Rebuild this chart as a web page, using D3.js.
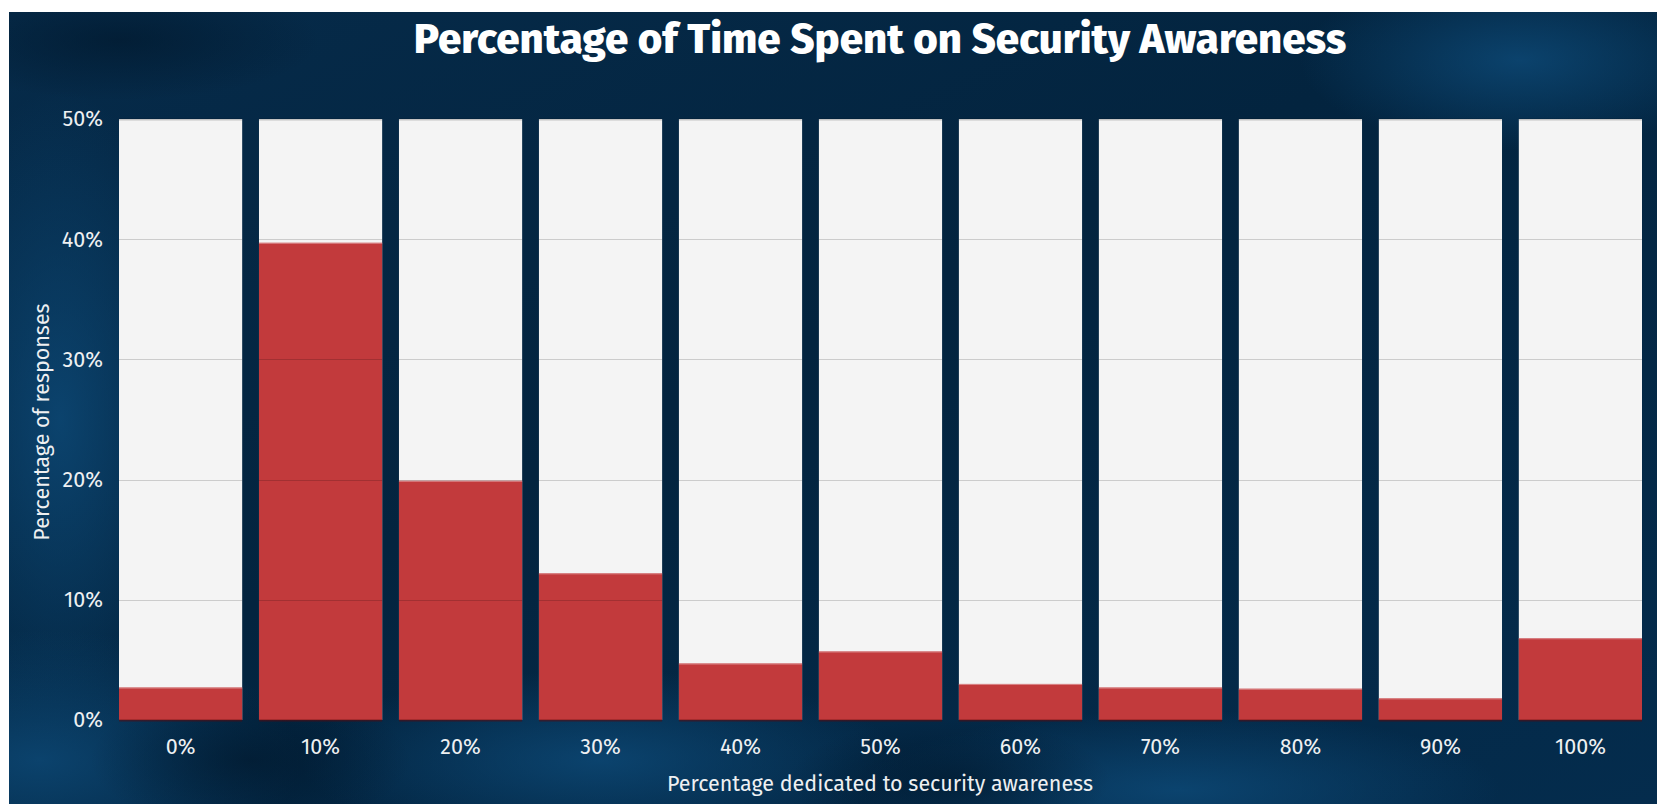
<!DOCTYPE html>
<html>
<head>
<meta charset="utf-8">
<script src="https://cdn.jsdelivr.net/npm/d3@7"></script>
<style>
  html, body { margin: 0; padding: 0; background: #fff; }
  svg { display: block; font-family: "Fira Sans", "Open Sans", sans-serif; }
</style>
</head>
<body>
<div class="canva"></div>
<script>
// categories and values (percent of responses)
const categories = ["0%", "10%", "20%", "30%", "40%", "50%", "60%", "70%", "80%", "90%", "100%"];
const responses = [2.7, 39.7, 19.9, 12.2, 4.7, 5.7, 3.0, 2.7, 2.6, 1.8, 6.8];
const yTicks = [0, 10, 20, 30, 40, 50];

const W = 1657, H = 804;
const svg = d3.select(".canva").append("svg")
  .attr("width", W)
  .attr("height", H);

const margin = {top: 119, right: 15, bottom: 84, left: 119};

const defs = svg.append("defs");
// background gradients
const bg = defs.append("linearGradient").attr("id", "bg")
  .attr("x1", 0).attr("y1", 0).attr("x2", 1).attr("y2", 1);
bg.append("stop").attr("offset", "0%").attr("stop-color", "#062b4a");
bg.append("stop").attr("offset", "45%").attr("stop-color", "#03243f");
bg.append("stop").attr("offset", "100%").attr("stop-color", "#042c4d");

const glow = defs.append("radialGradient").attr("id", "glow");
glow.append("stop").attr("offset", "0%").attr("stop-color", "#0d4a78").attr("stop-opacity", 0.8);
glow.append("stop").attr("offset", "100%").attr("stop-color", "#0d4a78").attr("stop-opacity", 0);

const dark = defs.append("radialGradient").attr("id", "dark");
dark.append("stop").attr("offset", "0%").attr("stop-color", "#01192e").attr("stop-opacity", 0.7);
dark.append("stop").attr("offset", "100%").attr("stop-color", "#01192e").attr("stop-opacity", 0);

// keep the photo-like background inside the panel
defs.append("clipPath").attr("id", "panelClip")
  .append("rect")
    .attr("x", 9).attr("y", 12)
    .attr("width", W - 9).attr("height", H - 12);

const panel = svg.append("g").attr("clip-path", "url(#panelClip)");
panel.append("rect")
  .attr("x", 9).attr("y", 12)
  .attr("width", W - 9).attr("height", H - 12)
  .attr("fill", "url(#bg)");

// soft lighter / darker patches
const blobs = [
  {x: 60, y: 420, rx: 140, ry: 330, f: "glow"},
  {x: 40, y: 760, rx: 260, ry: 130, f: "glow"},
  {x: 600, y: 760, rx: 300, ry: 90, f: "glow"},
  {x: 1180, y: 790, rx: 320, ry: 80, f: "glow"},
  {x: 1520, y: 60, rx: 220, ry: 90, f: "glow"},
  {x: 250, y: 760, rx: 160, ry: 70, f: "dark"},
  {x: 950, y: 780, rx: 160, ry: 60, f: "dark"},
  {x: 120, y: 40, rx: 200, ry: 60, f: "dark"}
];
panel.selectAll(".blob")
  .data(blobs)
  .enter()
  .append("ellipse")
    .attr("class", "blob")
    .attr("cx", d => d.x).attr("cy", d => d.y)
    .attr("rx", d => d.rx).attr("ry", d => d.ry)
    .attr("fill", d => `url(#${d.f})`);

// scales
const x = d3.scaleBand()
  .domain(categories)
  .range([margin.left, W - margin.right])
  .paddingInner(0.12)
  .paddingOuter(0);

const y = d3.scaleLinear()
  .domain([0, 50])
  .range([H - margin.bottom, margin.top]);

const data = categories.map((c, i) => ({cat: c, value: responses[i]}));

const bars = svg.append("g").attr("class", "bars");

// full-height pale background per column
bars.selectAll(".bgbar")
  .data(data)
  .enter()
  .append("rect")
    .attr("class", "bgbar")
    .attr("x", d => x(d.cat))
    .attr("y", y(50))
    .attr("width", x.bandwidth())
    .attr("height", y(0) - y(50))
    .attr("fill", "#f4f4f4");

// value bars
bars.selectAll(".bar")
  .data(data)
  .enter()
  .append("rect")
    .attr("class", "bar")
    .attr("x", d => x(d.cat))
    .attr("y", d => y(d.value))
    .attr("width", x.bandwidth())
    .attr("height", d => y(0) - y(d.value))
    .attr("fill", "#c23a3c");

// thin highlight on top of red bars
bars.selectAll(".barTop")
  .data(data)
  .enter()
  .append("line")
    .attr("class", "barTop")
    .attr("x1", d => x(d.cat))
    .attr("x2", d => x(d.cat) + x.bandwidth())
    .attr("y1", d => y(d.value) + 0.5)
    .attr("y2", d => y(d.value) + 0.5)
    .attr("stroke", "#d98587")
    .attr("stroke-width", 1);

// gridlines only inside each column
const grid = bars.append("g").attr("class", "grid");
data.forEach(d => {
  grid.selectAll(null)
    .data(yTicks)
    .enter()
    .append("line")
      .attr("x1", x(d.cat))
      .attr("x2", x(d.cat) + x.bandwidth())
      .attr("y1", t => Math.round(y(t)) + 0.5)
      .attr("y2", t => Math.round(y(t)) + 0.5)
      .attr("stroke", t => t === 0 ? "rgba(90,10,12,0.55)" : (t === 50 ? "rgba(0,0,0,0.2)" : "rgba(0,0,0,0.16)"))
      .attr("stroke-width", t => (t === 0 || t === 50) ? 2 : 1);
});

// y axis labels
const yAxis = svg.append("g")
  .attr("transform", `translate(${margin.left - 13},0)`)
  .call(d3.axisLeft(y).tickValues(yTicks).tickFormat(d => d + "%").tickSize(0));
yAxis.select(".domain").remove();
yAxis.selectAll("text")
  .attr("fill", "#eef0f2")
  .attr("font-size", 21.5)
  .attr("font-family", "'Fira Sans', 'Open Sans', sans-serif");

// x axis labels
const xAxis = svg.append("g")
  .attr("transform", `translate(0,${y(0) + 16})`)
  .call(d3.axisBottom(x).tickSize(0));
xAxis.select(".domain").remove();
xAxis.selectAll("text")
  .attr("fill", "#eef0f2")
  .attr("font-size", 21.5)
  .attr("font-family", "'Fira Sans', 'Open Sans', sans-serif");

// title
svg.append("text")
  .attr("x", 880)
  .attr("y", 53)
  .attr("text-anchor", "middle")
  .attr("fill", "#ffffff")
  .attr("font-size", 42)
  .attr("font-weight", 800)
  .text("Percentage of Time Spent on Security Awareness");

// axis titles
svg.append("text")
  .attr("x", 880)
  .attr("y", 791)
  .attr("text-anchor", "middle")
  .attr("fill", "#eef0f2")
  .attr("font-size", 21.5)
  .text("Percentage dedicated to security awareness");

svg.append("text")
  .attr("transform", "translate(49,422) rotate(-90)")
  .attr("text-anchor", "middle")
  .attr("fill", "#eef0f2")
  .attr("font-size", 21.5)
  .text("Percentage of responses");
</script>
</body>
</html>
